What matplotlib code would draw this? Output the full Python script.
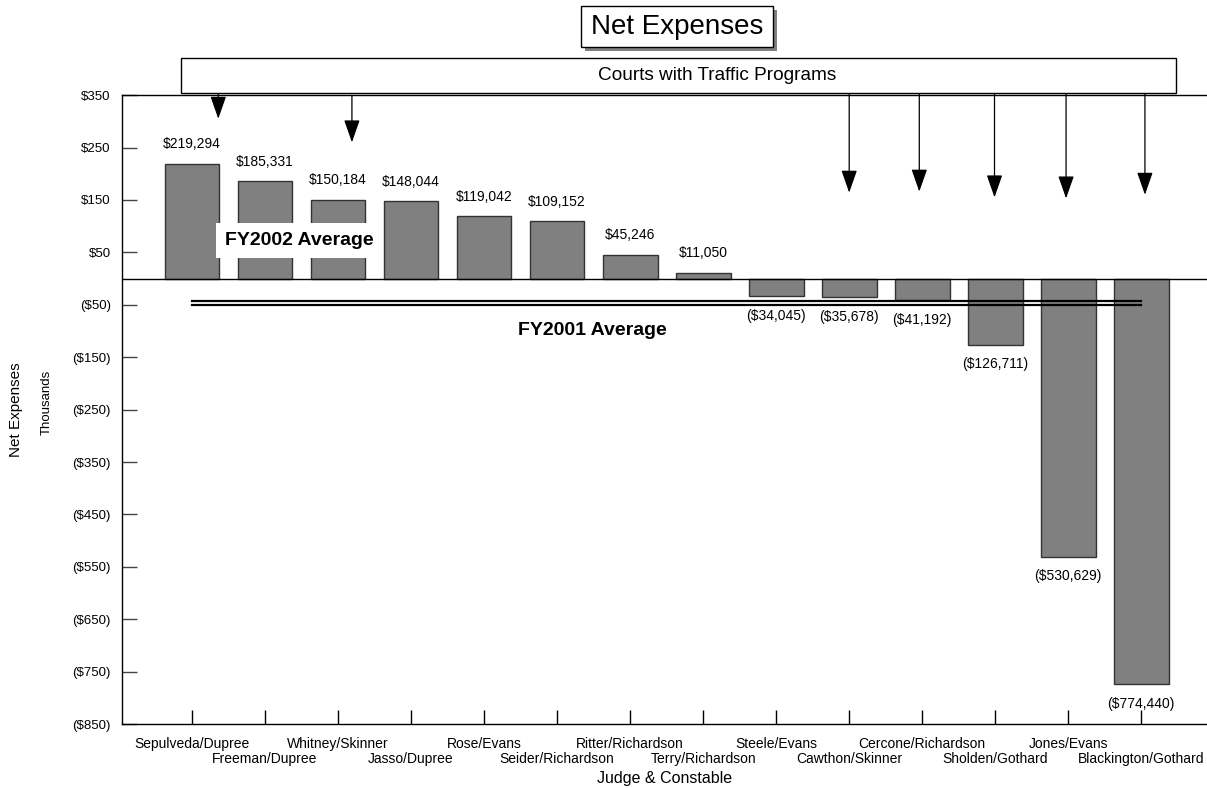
import numpy as np
import matplotlib.pyplot as plt
from matplotlib.patches import Rectangle

plt.rcParams['font.family'] = ['Liberation Sans', 'DejaVu Sans']

# Dados do gráfico
juizes = ["Sepulveda/Dupree", "Freeman/Dupree", "Whitney/Skinner", "Jasso/Dupree",
          "Rose/Evans", "Seider/Richardson", "Ritter/Richardson", "Terry/Richardson",
          "Steele/Evans", "Cawthon/Skinner", "Cercone/Richardson", "Sholden/Gothard",
          "Jones/Evans", "Blackington/Gothard"]
despesas = [219294, 185331, 150184, 148044, 119042, 109152, 45246, 11050,
            -34045, -35678, -41192, -126711, -530629, -774440]
media_fy2001 = -46  # em milhares (linha dupla)
cursos_trafego = ["Sepulveda/Dupree", "Whitney/Skinner", "Cawthon/Skinner",
                  "Cercone/Richardson", "Sholden/Gothard", "Jones/Evans",
                  "Blackington/Gothard"]
y_ticks = list(range(350, -851, -100))

valores = np.array(despesas) / 1000.0
x = np.arange(len(juizes))
W, H = 1207, 788

fig = plt.figure(figsize=(W / 100, H / 100), dpi=100)
ax = fig.add_axes([0.101, 0.0812, 0.899, 0.798])

# Barras
ax.bar(x, valores, width=0.75, color='#808080', edgecolor='#333333', linewidth=1, zorder=2)
ax.axhline(0, color='black', linewidth=1, zorder=3)

# Rótulos dos valores
for xi, v in zip(x, despesas):
    if v >= 0:
        txt, off = f"${v:,}", 14
    else:
        txt, off = f"(${-v:,})", -14
    ax.annotate(txt, (xi, v / 1000.0), xytext=(0, off), textcoords='offset points',
                ha='center', va='center', fontsize=10)

# Eixos
ax.set_xlim(-0.96, 13.9)
ax.set_ylim(-850, 350)
ax.set_yticks(y_ticks)
ax.set_yticklabels([f"${t}" if t > 0 else f"(${-t})" for t in y_ticks], fontsize=9.5)
ax.set_xticks(x)
ax.set_xticklabels(juizes, fontsize=10)
ax.tick_params(axis='y', direction='in', length=11, width=1, color='#444444', pad=8)
ax.tick_params(axis='x', direction='in', length=10, width=1, pad=9)
# rótulos alternados em duas linhas
for i, tick in enumerate(ax.xaxis.get_major_ticks()):
    if i % 2 == 1:
        tick.set_pad(20.5)
ax.spines['right'].set_visible(False)
for s in ['left', 'top', 'bottom']:
    ax.spines[s].set_linewidth(1)
ax.set_xlabel("Judge & Constable", fontsize=11.5, labelpad=3)

fig.text(0.013, 0.48, "Net Expenses", rotation=90, ha='center', va='center', fontsize=11)
fig.text(0.039, 0.489, "Thousands", rotation=90, ha='center', va='center', fontsize=9.5)

# Médias
for dy in (3.8, -3.8):
    ax.plot([0, 13], [media_fy2001 + dy] * 2, color='black', linewidth=1.6, zorder=4)
ax.text(5.48, -99, "FY2001 Average", fontsize=14, fontweight='bold', ha='center', va='center')
ax.text(1.47, 72.5, "FY2002 Average", fontsize=14, fontweight='bold', ha='center', va='center',
        zorder=5, bbox=dict(boxstyle='square,pad=0.45', fc='white', ec='none'))

# Título com sombra
fig.patches.append(Rectangle((585 / W, 1 - 51 / H), 192 / W, 41 / H,
                             transform=fig.transFigure, fc='#808080', ec='none'))
fig.patches.append(Rectangle((581 / W, 1 - 47 / H), 192 / W, 41 / H,
                             transform=fig.transFigure, fc='white', ec='black', lw=1))
fig.text(677 / W, 1 - 27 / H, "Net Expenses", fontsize=20, ha='center', va='center')

# Caixa "Courts with Traffic Programs" e setas
fig.patches.append(Rectangle((181 / W, 1 - 93 / H), 995 / W, 35 / H,
                             transform=fig.transFigure, fc='white', ec='black', lw=1))
fig.text(717 / W, 1 - 76 / H, "Courts with Traffic Programs", fontsize=13.7,
         ha='center', va='center')

setas = {"Sepulveda/Dupree": (0.36, 358, 305), "Whitney/Skinner": (2.19, 350, 260),
         "Cawthon/Skinner": (9.0, 353, 164), "Cercone/Richardson": (9.96, 358, 166),
         "Sholden/Gothard": (10.99, 353, 155), "Jones/Evans": (11.97, 353, 153),
         "Blackington/Gothard": (13.05, 353, 160)}
for nome in cursos_trafego:
    xs, y0, y1 = setas[nome]
    ax.annotate("", xy=(xs, y1), xytext=(xs, y0), annotation_clip=False,
                arrowprops=dict(arrowstyle='-|>,head_length=1.0,head_width=0.35',
                                mutation_scale=14, color='black', lw=0.9,
                                shrinkA=0, shrinkB=0))

fig.savefig("out.png", dpi=100)
